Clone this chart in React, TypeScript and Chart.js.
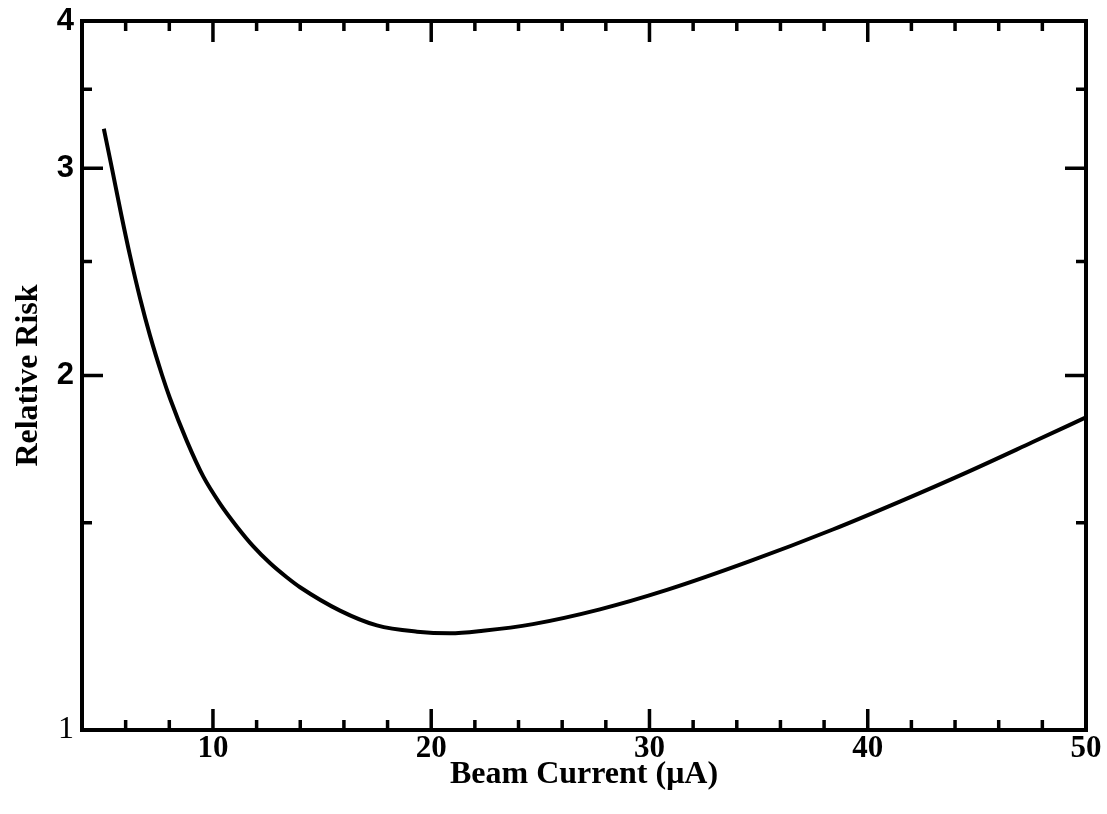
import React, { useEffect, useRef } from "react";
import { Chart, registerables } from "chart.js";

Chart.register(...registerables);

// Beam current (µA) and relative risk
const beamCurrent = [5.0, 5.37, 5.79, 6.2, 6.66, 7.12, 7.67, 8.03, 8.8, 9.56, 10.32, 11.09, 11.85, 12.61, 13.38, 13.99, 15.82, 17.51, 19.35, 20.86, 22.37, 24.66, 27.73, 30.8, 34.6, 38.4, 41.47, 44.54, 47.56, 50.0];
const relativeRisk = [3.24, 3.0, 2.744, 2.528, 2.326, 2.161, 2.001, 1.913, 1.76, 1.641, 1.557, 1.489, 1.432, 1.386, 1.348, 1.322, 1.263, 1.227, 1.212, 1.208, 1.214, 1.23, 1.266, 1.315, 1.391, 1.48, 1.563, 1.655, 1.756, 1.843];

const xMajorTicks = [10, 20, 30, 40, 50];
const xMinorTicks = [6, 8, 12, 14, 16, 18, 22, 24, 26, 28, 32, 34, 36, 38, 42, 44, 46, 48];
const yMajorTicks = [1, 2, 3, 4];
const yMinorTicks = [1.5, 2.5, 3.5];

const SERIF = "'Liberation Serif', 'Times New Roman', serif";
const SANS = "'Liberation Sans', Arial, sans-serif";

const framePlugin = {
  id: "frameTicks",
  afterDraw(chart: any) {
    const { ctx, chartArea } = chart;
    const xs = chart.scales.x;
    const ys = chart.scales.y;
    const { left, right, top, bottom } = chartArea;
    ctx.save();
    ctx.strokeStyle = "#000";
    ctx.lineCap = "butt";
    ctx.lineWidth = 3.5;
    const major = 21;
    const minor = 10;
    const drawX = (v: number, len: number) => {
      const p = xs.getPixelForValue(v);
      ctx.beginPath();
      ctx.moveTo(p, bottom);
      ctx.lineTo(p, bottom - len);
      ctx.moveTo(p, top);
      ctx.lineTo(p, top + len);
      ctx.stroke();
    };
    const drawY = (v: number, len: number) => {
      const p = ys.getPixelForValue(v);
      ctx.beginPath();
      ctx.moveTo(left, p);
      ctx.lineTo(left + len, p);
      ctx.moveTo(right, p);
      ctx.lineTo(right - len, p);
      ctx.stroke();
    };
    xMajorTicks.forEach((v) => drawX(v, major));
    xMinorTicks.forEach((v) => drawX(v, minor));
    yMajorTicks.forEach((v) => drawY(v, major));
    yMinorTicks.forEach((v) => drawY(v, minor));
    ctx.lineWidth = 4;
    ctx.lineJoin = "miter";
    ctx.strokeRect(left, top, right - left, bottom - top);
    ctx.restore();
  },
};

export default function App() {
  const ref = useRef<HTMLCanvasElement | null>(null);

  useEffect(() => {
    if (!ref.current) return;
    const chart = new Chart(ref.current, {
      type: "line",
      data: {
        datasets: [
          {
            data: beamCurrent.map((x, i) => ({ x, y: relativeRisk[i] })),
            borderColor: "#000",
            borderWidth: 4,
            pointRadius: 0,
            fill: false,
            cubicInterpolationMode: "monotone",
          },
        ],
      },
      options: {
        animation: false,
        responsive: false,
        devicePixelRatio: 1,
        layout: { padding: { top: 21, right: 21, left: 0, bottom: 0 } },
        plugins: { legend: { display: false }, tooltip: { enabled: false } },
        scales: {
          x: {
            type: "linear",
            position: "bottom",
            min: 4,
            max: 50,
            grid: { display: false, drawTicks: false },
            border: { display: false },
            afterBuildTicks: (scale: any) => {
              scale.ticks = xMajorTicks.map((v) => ({ value: v }));
            },
            afterFit: (scale: any) => {
              scale.height = 84;
            },
            ticks: {
              autoSkip: false,
              maxRotation: 0,
              padding: 0,
              color: "#000",
              font: { family: SERIF, size: 31, weight: "bold" },
              callback: (v: any) => String(v),
            },
            title: {
              display: true,
              text: "Beam Current (μA)",
              color: "#000",
              font: { family: SERIF, size: 32, weight: "bold" },
              padding: { top: 0, bottom: 20 },
            },
          },
          y: {
            type: "logarithmic",
            min: 1,
            max: 4,
            grid: { display: false, drawTicks: false },
            border: { display: false },
            afterBuildTicks: (scale: any) => {
              scale.ticks = yMajorTicks.map((v) => ({ value: v }));
            },
            afterFit: (scale: any) => {
              scale.width = 82;
            },
            ticks: {
              autoSkip: false,
              padding: 8,
              color: "#000",
              font: (c: any) =>
                c.tick && c.tick.value === 1
                  ? { family: SERIF, size: 32, weight: "normal", lineHeight: 0.8 }
                  : { family: SANS, size: 31, weight: "bold", lineHeight: 0.8 },
              callback: (v: any) => String(v),
            },
            title: {
              display: true,
              text: "Relative Risk",
              color: "#000",
              font: { family: SERIF, size: 32, weight: "bold" },
              padding: { top: 10, bottom: 0 },
            },
          },
        },
      } as any,
      plugins: [framePlugin],
    });
    return () => chart.destroy();
  }, []);

  return (
    <div style={{ position: "absolute", left: 0, top: 0, width: 1107, height: 814, background: "#fff" }}>
      <canvas ref={ref} width={1107} height={814} />
    </div>
  );
}
